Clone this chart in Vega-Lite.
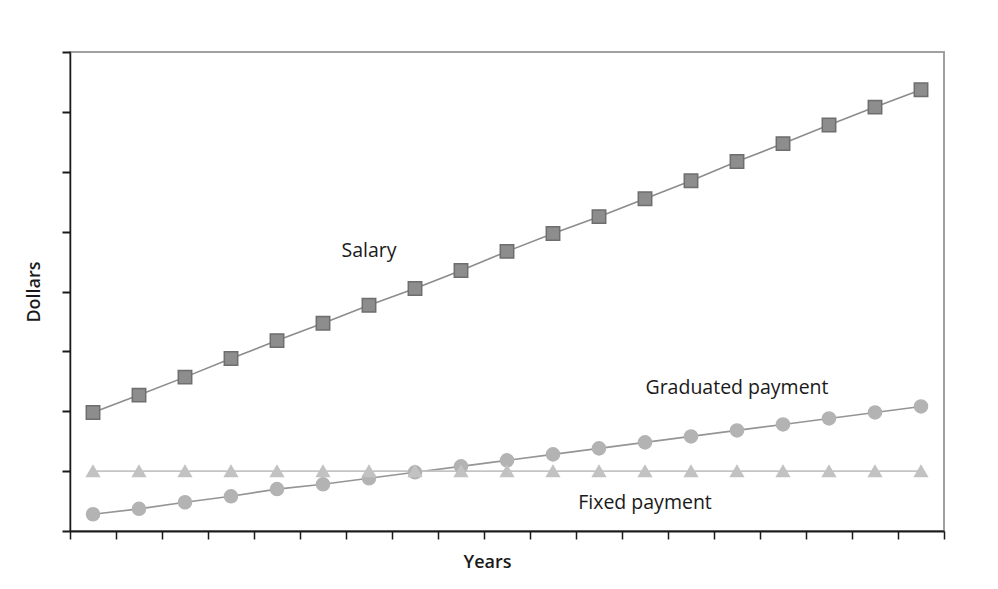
{
  "$schema": "https://vega.github.io/schema/vega-lite/v6.json",
  "autosize": "none",
  "width": 874,
  "height": 479,
  "padding": {"left": 70, "top": 52, "right": 54, "bottom": 58},
  "background": "white",
  "config": {
    "view": {"stroke": "#a0a0a0", "strokeWidth": 2},
    "font": "Open Sans"
  },
  "datasets": {
    "series": [
      {"year": 1, "series": "Salary", "value": 19.8},
      {"year": 2, "series": "Salary", "value": 22.7},
      {"year": 3, "series": "Salary", "value": 25.7},
      {"year": 4, "series": "Salary", "value": 28.8},
      {"year": 5, "series": "Salary", "value": 31.8},
      {"year": 6, "series": "Salary", "value": 34.7},
      {"year": 7, "series": "Salary", "value": 37.7},
      {"year": 8, "series": "Salary", "value": 40.5},
      {"year": 9, "series": "Salary", "value": 43.5},
      {"year": 10, "series": "Salary", "value": 46.7},
      {"year": 11, "series": "Salary", "value": 49.7},
      {"year": 12, "series": "Salary", "value": 52.5},
      {"year": 13, "series": "Salary", "value": 55.5},
      {"year": 14, "series": "Salary", "value": 58.5},
      {"year": 15, "series": "Salary", "value": 61.7},
      {"year": 16, "series": "Salary", "value": 64.7},
      {"year": 17, "series": "Salary", "value": 67.8},
      {"year": 18, "series": "Salary", "value": 70.8},
      {"year": 19, "series": "Salary", "value": 73.7},
      {"year": 1, "series": "Graduated payment", "value": 2.8},
      {"year": 2, "series": "Graduated payment", "value": 3.7},
      {"year": 3, "series": "Graduated payment", "value": 4.8},
      {"year": 4, "series": "Graduated payment", "value": 5.8},
      {"year": 5, "series": "Graduated payment", "value": 7.0},
      {"year": 6, "series": "Graduated payment", "value": 7.8},
      {"year": 7, "series": "Graduated payment", "value": 8.8},
      {"year": 8, "series": "Graduated payment", "value": 9.8},
      {"year": 9, "series": "Graduated payment", "value": 10.8},
      {"year": 10, "series": "Graduated payment", "value": 11.8},
      {"year": 11, "series": "Graduated payment", "value": 12.8},
      {"year": 12, "series": "Graduated payment", "value": 13.8},
      {"year": 13, "series": "Graduated payment", "value": 14.8},
      {"year": 14, "series": "Graduated payment", "value": 15.8},
      {"year": 15, "series": "Graduated payment", "value": 16.8},
      {"year": 16, "series": "Graduated payment", "value": 17.8},
      {"year": 17, "series": "Graduated payment", "value": 18.8},
      {"year": 18, "series": "Graduated payment", "value": 19.8},
      {"year": 19, "series": "Graduated payment", "value": 20.8},
      {"year": 1, "series": "Fixed payment", "value": 10},
      {"year": 2, "series": "Fixed payment", "value": 10},
      {"year": 3, "series": "Fixed payment", "value": 10},
      {"year": 4, "series": "Fixed payment", "value": 10},
      {"year": 5, "series": "Fixed payment", "value": 10},
      {"year": 6, "series": "Fixed payment", "value": 10},
      {"year": 7, "series": "Fixed payment", "value": 10},
      {"year": 8, "series": "Fixed payment", "value": 10},
      {"year": 9, "series": "Fixed payment", "value": 10},
      {"year": 10, "series": "Fixed payment", "value": 10},
      {"year": 11, "series": "Fixed payment", "value": 10},
      {"year": 12, "series": "Fixed payment", "value": 10},
      {"year": 13, "series": "Fixed payment", "value": 10},
      {"year": 14, "series": "Fixed payment", "value": 10},
      {"year": 15, "series": "Fixed payment", "value": 10},
      {"year": 16, "series": "Fixed payment", "value": 10},
      {"year": 17, "series": "Fixed payment", "value": 10},
      {"year": 18, "series": "Fixed payment", "value": 10},
      {"year": 19, "series": "Fixed payment", "value": 10}
    ],
    "labels": [
      {"year": 7, "value": 46.8, "label": "Salary"},
      {"year": 15, "value": 23.8, "label": "Graduated payment"},
      {"year": 13, "value": 4.7, "label": "Fixed payment"}
    ]
  },
  "encoding": {
    "x": {
      "field": "year",
      "type": "ordinal",
      "scale": {"domain": [1,2,3,4,5,6,7,8,9,10,11,12,13,14,15,16,17,18,19], "paddingInner": 0, "paddingOuter": 0},
      "axis": {
        "title": "Years",
        "labels": false,
        "tickBand": "extent",
        "tickSize": 8,
        "tickWidth": 1.5,
        "tickColor": "#1a1a1a",
        "domainColor": "#1a1a1a",
        "domainWidth": 2,
        "titleFontSize": 18,
        "titleFontWeight": 600,
        "titleColor": "#1a1a1a",
        "titlePadding": 14,
        "titleX": 417
      }
    },
    "y": {
      "field": "value",
      "type": "quantitative",
      "scale": {"domain": [0, 80], "nice": false, "zero": true},
      "axis": {
        "title": "Dollars",
        "labels": false,
        "grid": false,
        "values": [0, 10, 20, 30, 40, 50, 60, 70, 80],
        "tickSize": 8,
        "tickWidth": 2,
        "tickColor": "#1a1a1a",
        "domainColor": "#1a1a1a",
        "domainWidth": 1.5,
        "titleFontSize": 18,
        "titleFontWeight": 600,
        "titleColor": "#1a1a1a",
        "titlePadding": 18
      }
    }
  },
  "layer": [
    {
      "data": {"name": "series"},
      "mark": {"type": "line", "strokeWidth": 1.6},
      "encoding": {
        "detail": {"field": "series"},
        "color": {
          "field": "series",
          "type": "nominal",
          "scale": {"domain": ["Salary", "Graduated payment", "Fixed payment"], "range": ["#8c8c8c", "#959595", "#c4c4c4"]},
          "legend": null
        }
      }
    },
    {
      "data": {"name": "series"},
      "mark": {"type": "point", "filled": true, "opacity": 1, "strokeWidth": 1.5},
      "encoding": {
        "shape": {
          "field": "series",
          "type": "nominal",
          "scale": {"domain": ["Salary", "Graduated payment", "Fixed payment"], "range": ["square", "circle", "triangle-up"]},
          "legend": null
        },
        "fill": {
          "field": "series",
          "type": "nominal",
          "scale": {"domain": ["Salary", "Graduated payment", "Fixed payment"], "range": ["#8d8d8d", "#b3b3b3", "#c2c2c2"]},
          "legend": null
        },
        "stroke": {
          "field": "series",
          "type": "nominal",
          "scale": {"domain": ["Salary", "Graduated payment", "Fixed payment"], "range": ["#6e6e6e", "#b3b3b3", "#c2c2c2"]},
          "legend": null
        },
        "size": {
          "field": "series",
          "type": "nominal",
          "scale": {"domain": ["Salary", "Graduated payment", "Fixed payment"], "range": [180, 160, 160]},
          "legend": null
        }
      }
    },
    {
      "data": {"name": "labels"},
      "mark": {"type": "text", "fontSize": 19.5, "color": "#1a1a1a", "align": "center", "baseline": "middle", "font": "Open Sans"},
      "encoding": {
        "text": {"field": "label"}
      }
    }
  ]
}
